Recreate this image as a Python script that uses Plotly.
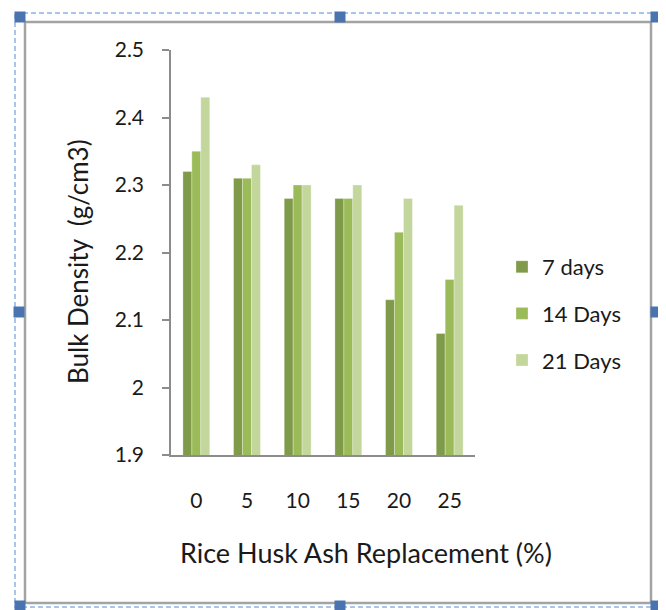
import plotly.graph_objects as go

categories = ["0", "5", "10", "15", "20", "25"]
days7 = [2.32, 2.31, 2.28, 2.28, 2.13, 2.08]
days14 = [2.35, 2.31, 2.30, 2.28, 2.23, 2.16]
days21 = [2.43, 2.33, 2.30, 2.30, 2.28, 2.27]
series_names = ["7 days", "14 Days", "21 Days"]
y_ticks = [1.9, 2.0, 2.1, 2.2, 2.3, 2.4, 2.5]
y_tick_text = ["1.9", "2", "2.1", "2.2", "2.3", "2.4", "2.5"]

W, H = 666, 610
O = 8  # page body margin offset
L, R, T, B = 171 - O, 475 - O, 50 - O, 455 - O

def px(x):
    return (x - O - L) / (R - L)

def py(y):
    return (B - (y - O)) / (B - T)

colors = ["#7f9a48", "#9bbb59", "#c3d69b"]
FONT = "Lato"
TXT = "#1a1a1a"

fig = go.Figure()
for i, (name, vals) in enumerate(zip(series_names, [days7, days14, days21])):
    fig.add_trace(go.Bar(
        x=categories, y=vals, name=name, legendgroup=name,
        marker=dict(color=colors[i], line=dict(color="rgba(255,255,255,0.5)", width=0.6)),
    ))

shapes = []
shapes.append(dict(type="rect", xref="paper", yref="paper",
                   x0=px(25), x1=px(651), y0=py(22), y1=py(603),
                   line=dict(color="#a3a3a3", width=2.5), layer="below"))
shapes.append(dict(type="rect", xref="paper", yref="paper",
                   x0=px(15), x1=px(660), y0=py(13), y1=py(607),
                   line=dict(color="#8db3e6", width=1.5, dash="5px,3px")))
for hx in (20, 340, 656):
    for hy in (17, 606):
        shapes.append(dict(type="rect", xref="paper", yref="paper",
                           x0=px(hx - 5.5), x1=px(hx + 5.5), y0=py(hy - 5.5), y1=py(hy + 5.5),
                           line=dict(width=0), fillcolor="#4a74b0"))
for hx in (19, 656):
    shapes.append(dict(type="rect", xref="paper", yref="paper",
                       x0=px(hx - 5.5), x1=px(hx + 5.5), y0=py(306.5), y1=py(317.5),
                       line=dict(width=0), fillcolor="#4a74b0"))

annotations = [
    dict(text="Rice Husk Ash Replacement (%)", xref="paper", yref="paper",
         x=px(366), y=py(552), xanchor="center", yanchor="middle", showarrow=False,
         font=dict(family=FONT, size=27, color=TXT)),
    dict(text="Bulk Density  (g/cm3)", xref="paper", yref="paper",
         x=px(78), y=py(262), xanchor="center", yanchor="middle", showarrow=False,
         textangle=-90, font=dict(family=FONT, size=26, color=TXT)),
]

fig.update_layout(
    width=W, height=H,
    margin=dict(l=L, r=W - R, t=T, b=H - B, autoexpand=False),
    paper_bgcolor="white", plot_bgcolor="white",
    barmode="group", bargap=0.47, bargroupgap=0,
    font=dict(family=FONT, color=TXT),
    shapes=shapes, annotations=annotations,
    legend=dict(x=px(502), y=py(246), xanchor="left", yanchor="top",
                font=dict(family=FONT, size=22, color=TXT),
                tracegroupgap=15, bgcolor="rgba(0,0,0,0)"),
    showlegend=True,
)
fig.update_yaxes(range=[1.9, 2.5], tickvals=y_ticks, ticktext=y_tick_text,
                 showgrid=False, zeroline=False,
                 showline=True, linecolor="#8c8c8c", linewidth=1.5,
                 ticks="outside", ticklen=7, tickcolor="#8c8c8c", tickwidth=1.5,
                 tickfont=dict(family=FONT, size=21, color=TXT), ticklabelstandoff=14)
fig.update_xaxes(showgrid=False, zeroline=False, showline=True, linecolor="#8c8c8c", linewidth=1.5,
                 ticks="", tickfont=dict(family=FONT, size=21, color=TXT), ticklabelstandoff=26)

fig.write_html("out.html")
